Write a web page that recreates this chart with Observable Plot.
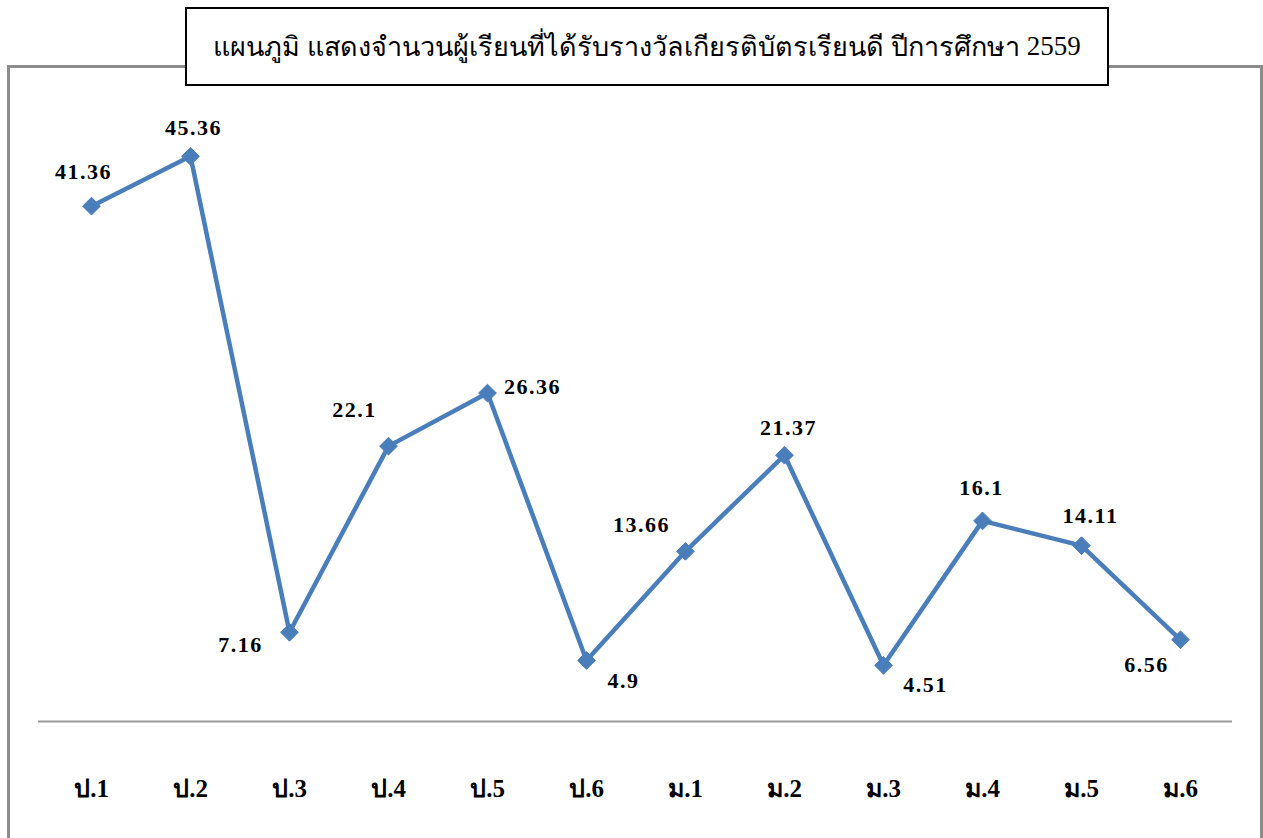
<!DOCTYPE html>
<html>
<head>
<meta charset="utf-8">
<script src="https://cdn.jsdelivr.net/npm/d3@7"></script>
<script src="https://cdn.jsdelivr.net/npm/@observablehq/plot@0.6"></script>
<style>
  html, body { margin: 0; padding: 0; background: #fff; }
  #wrap { position: relative; width: 1263px; height: 838px; overflow: hidden; }
  #frame { position: absolute; left: 7px; top: 65px; width: 1250px; height: 900px;
           border: 3px solid #8c8c8c; border-bottom: none; }
  #chart { position: absolute; left: 0; top: 0; }
  #title { position: absolute; left: 185px; top: 7px; width: 920px; height: 75px;
           border: 2px solid #000; background: #fff; font-family: "Liberation Serif", "Times New Roman", serif;
           font-size: 27px; color: #000; display: flex; align-items: center; justify-content: center; }
  #title .num { font-family: "Liberation Serif", "Times New Roman", serif; }
  #chart svg g[aria-label="text"] text { letter-spacing: 1.5px; }
</style>
</head>
<body>
<div id="wrap">
  <div id="frame"></div>
  <div id="chart"></div>
  <div id="title"><span>แผนภูมิ แสดงจำนวนผู้เรียนที่ได้รับรางวัลเกียรติบัตรเรียนดี ปีการศึกษา</span>&nbsp;<span class="num">2559</span></div>
</div>
<script>
const categories = ["ป.1", "ป.2", "ป.3", "ป.4", "ป.5", "ป.6", "ม.1", "ม.2", "ม.3", "ม.4", "ม.5", "ม.6"];
const values = [41.36, 45.36, 7.16, 22.1, 26.36, 4.9, 13.66, 21.37, 4.51, 16.1, 14.11, 6.56];

const data = categories.map((c, i) => ({cat: c, value: values[i]}));

// label placement offsets (layout only)
const offsets = [
  [-8, -34], [3, -28], [-49, 13], [-34, -36], [45, -6], [37, 21],
  [-44, -26], [4, -27], [42, 20], [-1, -33], [9, -30], [-34, 25]
];

const labelFont = "'Liberation Serif', 'Times New Roman', serif";

const labelMarks = data.map((d, i) => Plot.text([d], {
  x: "cat", y: "value", text: d => String(d.value),
  dx: offsets[i][0], dy: offsets[i][1],
  fontSize: 22, fontWeight: "bold", fill: "#000", fontFamily: labelFont
}));

const chart = Plot.plot({
  width: 1263,
  height: 838,
  marginLeft: 38,
  marginRight: 31,
  marginTop: 98,
  marginBottom: 117,
  style: {background: "transparent", fontFamily: labelFont},
  x: {type: "point", domain: categories, padding: 0.5, label: null},
  y: {domain: [0, 50], axis: null},
  marks: [
    Plot.ruleY([0], {stroke: "#9a9a9a", strokeWidth: 2}),
    Plot.axisX({tickSize: 0, tickPadding: 58, fontSize: 25, fontWeight: "bold", fill: "#000", label: null, fontFamily: labelFont}),
    Plot.line(data, {x: "cat", y: "value", stroke: "#4A7EBB", strokeWidth: 4.5}),
    Plot.dot(data, {x: "cat", y: "value", symbol: "diamond2", r: 8, fill: "#4A7EBB", stroke: "#4A7EBB", strokeWidth: 1}),
    ...labelMarks
  ]
});

// render the numeric part of tick labels in the serif font
d3.select(chart).selectAll('g[aria-label="x-axis tick label"] text').each(function() {
  const t = this.textContent;
  const m = t.match(/^(\D+?)(\.\d+)$/);
  if (!m) return;
  const sel = d3.select(this);
  sel.text(null);
  sel.append("tspan").text(m[1]);
  sel.append("tspan").attr("font-family", labelFont).text(m[2]);
});

document.getElementById("chart").appendChild(chart);
</script>
</body>
</html>
